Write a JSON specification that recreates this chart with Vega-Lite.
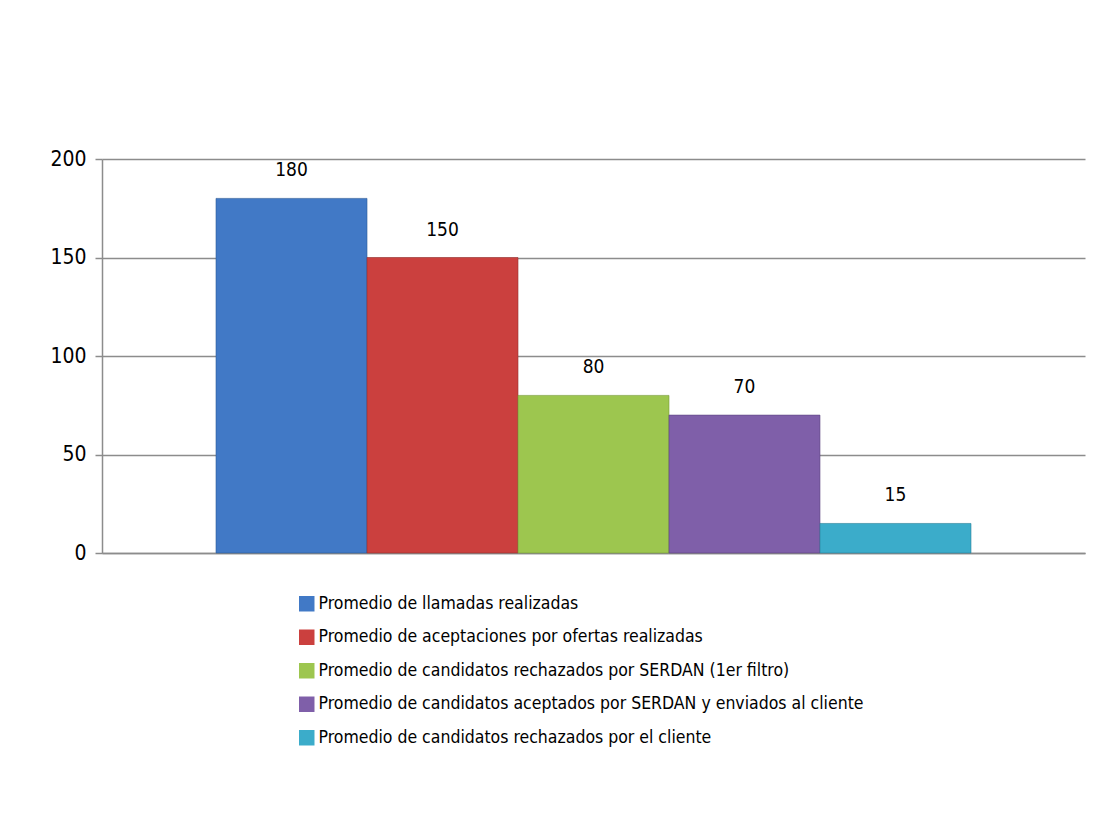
{
  "$schema": "https://vega.github.io/schema/vega-lite/v6.json",
  "width": 983,
  "height": 394,
  "autosize": {"type": "none"},
  "padding": {"left": 102, "top": 159, "right": 31, "bottom": 270},
  "background": "white",
  "config": {
    "view": {"stroke": null},
    "font": "DejaVu Sans Condensed"
  },
  "data": {
    "values": [
      {"serie": "Promedio de llamadas realizadas", "valor": 180},
      {"serie": "Promedio de aceptaciones por ofertas realizadas", "valor": 150},
      {"serie": "Promedio de candidatos rechazados por SERDAN (1er filtro)", "valor": 80},
      {"serie": "Promedio de candidatos aceptados por SERDAN y enviados al cliente", "valor": 70},
      {"serie": "Promedio de candidatos rechazados por el cliente", "valor": 15}
    ]
  },
  "encoding": {
    "x": {
      "field": "serie",
      "type": "nominal",
      "sort": null,
      "scale": {"paddingInner": 0, "paddingOuter": 0.755},
      "axis": {"labels": false, "ticks": false, "title": null, "domain": true, "domainColor": "#8c8c8c", "domainWidth": 1.5}
    },
    "y": {
      "field": "valor",
      "type": "quantitative",
      "scale": {"domain": [0, 200], "nice": false},
      "axis": {
        "values": [0, 50, 100, 150, 200],
        "title": null,
        "grid": true,
        "gridColor": "#8c8c8c",
        "gridWidth": 1.5,
        "domainColor": "#8c8c8c",
        "domainWidth": 1.5,
        "tickColor": "#8c8c8c",
        "tickWidth": 1.5,
        "tickSize": 7,
        "labelFontSize": 21,
        "labelColor": "#000000",
        "labelPadding": 9,
        "labelFont": "DejaVu Sans Condensed"
      }
    }
  },
  "layer": [
    {
      "mark": {"type": "bar", "strokeWidth": 1, "strokeOpacity": 0.6},
      "encoding": {
        "color": {
          "field": "serie",
          "type": "nominal",
          "sort": null,
          "scale": {"range": ["#4179c6", "#cb403e", "#9dc64f", "#7f5fa9", "#3bacca"]},
          "legend": {
            "title": null,
            "orient": "none",
            "legendX": 196,
            "legendY": 436,
            "symbolType": "square",
            "symbolSize": 240,
            "symbolStrokeWidth": 0,
            "labelFontSize": 17.5,
            "labelFont": "DejaVu Sans Condensed",
            "labelColor": "#000000",
            "labelLimit": 800,
            "labelOffset": 3,
            "rowPadding": 14.5
          }
        },
        "stroke": {
          "field": "serie",
          "type": "nominal",
          "sort": null,
          "scale": {"range": ["#2d5a96", "#963030", "#779a38", "#5e4480", "#2a8099"]},
          "legend": null
        }
      }
    },
    {
      "mark": {"type": "text", "baseline": "bottom", "dy": -18, "fontSize": 19, "font": "DejaVu Sans Condensed", "color": "#000000"},
      "encoding": {
        "text": {"field": "valor", "type": "quantitative"}
      }
    }
  ]
}
